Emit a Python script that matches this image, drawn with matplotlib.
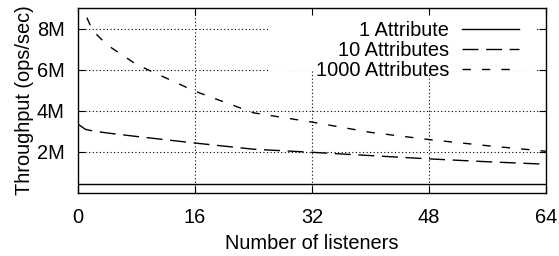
import matplotlib
matplotlib.use("Agg")
import matplotlib.pyplot as plt
from matplotlib.patches import Rectangle

# data (throughput in millions of ops/sec)
listeners = [0, 1, 2, 4, 8, 16, 24, 32, 40, 48, 56, 64]
attr_1 = [0.45, 0.45, 0.45, 0.45, 0.45, 0.45, 0.45, 0.45, 0.45, 0.45, 0.45, 0.45]
attr_10 = [3.35, 3.1, 3.02, 2.92, 2.75, 2.43, 2.13, 1.98, 1.82, 1.66, 1.52, 1.40]
attr_1000 = [10.2, 8.7, 7.9, 7.2, 6.25, 4.95, 3.9, 3.45, 2.95, 2.6, 2.3, 2.03]

x_ticks = [0, 16, 32, 48, 64]
y_ticks = [2, 4, 6, 8]
y_tick_labels = ["2M", "4M", "6M", "8M"]

plt.rcParams["font.family"] = ["Liberation Sans", "DejaVu Sans"]
plt.rcParams["font.size"] = 14.4

fig = plt.figure(figsize=(5.59, 2.56), dpi=100)
ax = fig.add_axes([78 / 559, 1 - 193 / 256, 468 / 559, 185 / 256])

ax.plot(listeners, attr_1, color="black", lw=1.0, label="1 Attribute")
ax.plot(listeners, attr_10, color="black", lw=1.0, dashes=(11.5, 5.5),
        label="10 Attributes")
ax.plot(listeners, attr_1000, color="black", lw=1.0, dashes=(6, 8),
        label="1000 Attributes")

ax.set_xlim(0, 64)
ax.set_ylim(0, 9)
ax.set_xticks(x_ticks)
ax.set_yticks(y_ticks)
ax.set_yticklabels(y_tick_labels)

for v in x_ticks[1:-1]:
    ax.axvline(v, color="black", lw=0.8, ls=(0, (1, 2.2)), zorder=0.5)
for v in y_ticks:
    ax.axhline(v, color="black", lw=0.8, ls=(0, (1, 2.2)), zorder=0.5)

# opaque key box like gnuplot
ax.add_patch(Rectangle((0.406, 0.659), 0.575, 0.341, transform=ax.transAxes,
                       facecolor="white", edgecolor="none", zorder=1))

ax.tick_params(direction="in", length=5, width=0.8, top=True, right=True)
ax.tick_params(axis="x", pad=10.5)
ax.tick_params(axis="y", pad=9.5)
for s in ax.spines.values():
    s.set_linewidth(1.0)

ax.set_xlabel("Number of listeners", labelpad=5)
ax.set_ylabel("Throughput (ops/sec)", labelpad=2)

leg = ax.legend(loc="upper right", bbox_to_anchor=(0.955, 0.962),
                markerfirst=False, frameon=False,
                borderpad=0.3, borderaxespad=0, handlelength=2.85,
                handletextpad=0.65, labelspacing=0.05)
leg.set_zorder(5)

fig.savefig("out.png", dpi=100)
